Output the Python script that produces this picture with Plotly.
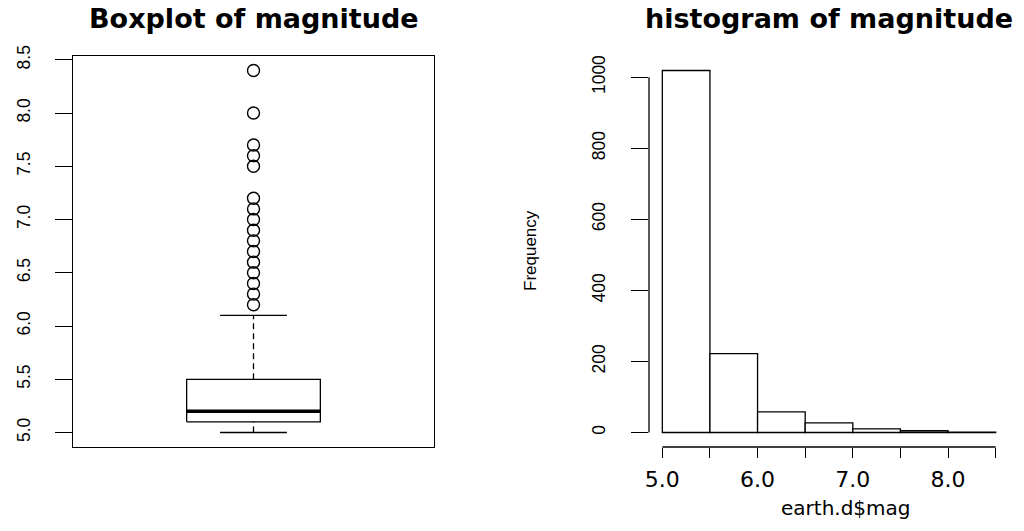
import plotly.graph_objects as go

# ---- data -------------------------------------------------------------
# boxplot summary of magnitude: lower whisker, Q1, median, Q3, upper whisker
box_stats = [5.0, 5.1, 5.2, 5.5, 6.1]
# magnitudes beyond the upper whisker
outliers = [6.2, 6.3, 6.4, 6.5, 6.6, 6.7, 6.8, 6.9, 7.0, 7.1, 7.2,
            7.5, 7.6, 7.7, 8.0, 8.4]
box_ticks = [5.0, 5.5, 6.0, 6.5, 7.0, 7.5, 8.0, 8.5]

# histogram of earth.d$mag, bins of width 0.5
bin_edges = [5.0, 5.5, 6.0, 6.5, 7.0, 7.5, 8.0, 8.5]
counts = [1019, 222, 58, 27, 10, 5, 1]
freq_ticks = [0, 200, 400, 600, 800, 1000]
mag_ticks = [5.0, 5.5, 6.0, 6.5, 7.0, 7.5, 8.0, 8.5]
mag_labels = ["5.0", "", "6.0", "", "7.0", "", "8.0", ""]

# ---- styling ----------------------------------------------------------
W, H = 1024, 531
SANS = "Liberation Sans, Arial, sans-serif"
WIDE = "DejaVu Sans, Verdana, sans-serif"
LW = 1.3


def ext(lo, hi, f=0.04):
    d = (hi - lo) * f
    return [lo - d, hi + d]


fig = go.Figure()

# ---- left panel: boxplot ---------------------------------------------
lo, q1, med, q3, hi = box_stats
cx, half, cap = 1.0, 0.2, 0.1
line = dict(color="black", width=LW)

fig.add_trace(go.Scatter(x=[cx - half, cx + half, cx + half, cx - half, cx - half],
                         y=[q1, q1, q3, q3, q1], mode="lines", line=line,
                         xaxis="x", yaxis="y", hoverinfo="skip"))
fig.add_trace(go.Scatter(x=[cx - half, cx + half], y=[med, med], mode="lines",
                         line=dict(color="black", width=3.5), xaxis="x", yaxis="y"))
for a, b in [(lo, q1), (q3, hi)]:
    fig.add_trace(go.Scatter(x=[cx, cx], y=[a, b], mode="lines",
                             line=dict(color="black", width=LW, dash="6px,4px"),
                             xaxis="x", yaxis="y"))
for v in [lo, hi]:
    fig.add_trace(go.Scatter(x=[cx - cap, cx + cap], y=[v, v], mode="lines",
                             line=line, xaxis="x", yaxis="y"))
fig.add_trace(go.Scatter(x=[cx] * len(outliers), y=outliers, mode="markers",
                         marker=dict(symbol="circle-open", size=12,
                                     color="black", line=dict(width=1.4)),
                         xaxis="x", yaxis="y"))

# ---- right panel: histogram ------------------------------------------
mids = [(a + b) / 2 for a, b in zip(bin_edges[:-1], bin_edges[1:])]
widths = [b - a for a, b in zip(bin_edges[:-1], bin_edges[1:])]
fig.add_trace(go.Bar(x=mids, y=counts, width=widths,
                     marker=dict(color="white", line=dict(color="black", width=LW)),
                     xaxis="x2", yaxis="y2"))

# ---- axes -------------------------------------------------------------
ydom = [1 - 447 / H, 1 - 56 / H]
box_y = ext(min([lo] + outliers), max([hi] + outliers))
tickfont_rot = dict(family=SANS, size=17.5, color="black")

fig.update_layout(
    template="none",
    width=W, height=H, margin=dict(l=0, r=0, t=0, b=0, autoexpand=False),
    paper_bgcolor="white", plot_bgcolor="white", showlegend=False,
    xaxis=dict(domain=[73 / W, 434 / W], range=[0.46, 1.54], anchor="y",
               automargin=False,
               showgrid=False, zeroline=False, showticklabels=False, ticks="",
               showline=True, mirror=True, linecolor="black", linewidth=LW),
    yaxis=dict(domain=ydom, range=box_y, anchor="x", tickvals=box_ticks,
               ticktext=[f"{v:.1f}" for v in box_ticks], automargin=False,
               showgrid=False, zeroline=False, ticks="outside", ticklen=17,
               tickwidth=LW, tickcolor="black", tickangle=-90,
               ticklabelstandoff=18, tickfont=tickfont_rot,
               showline=True, mirror=True, linecolor="black", linewidth=LW),
    xaxis2=dict(domain=[649 / W, 1009 / W], range=ext(bin_edges[0], bin_edges[-1]),
                anchor="y2", tickvals=mag_ticks, ticktext=mag_labels,
                automargin=False,
                showgrid=False, zeroline=False, showline=False,
                ticks="outside", ticklen=10, tickwidth=LW, tickcolor="black",
                ticklabelstandoff=3,
                tickfont=dict(family=WIDE, size=22, color="black")),
    yaxis2=dict(domain=ydom, range=ext(0, max(counts)), anchor="x2",
                tickvals=freq_ticks, automargin=False,
                showgrid=False, zeroline=False, showline=False,
                ticks="outside", ticklen=17, tickwidth=LW, tickcolor="black",
                tickangle=-90, ticklabelstandoff=19, tickfont=tickfont_rot),
)

# axis lines spanning only the tick range, as in base R
fig.add_shape(type="line", xref="x2", yref="y2 domain",
              x0=mag_ticks[0], x1=mag_ticks[-1], y0=0, y1=0,
              line=dict(color="black", width=LW))
fig.add_shape(type="line", xref="x2 domain", yref="y2",
              x0=0, x1=0, y0=freq_ticks[0], y1=freq_ticks[-1],
              line=dict(color="black", width=LW))

# ---- titles -----------------------------------------------------------
title_font = dict(family=WIDE, size=27, color="black", weight="bold")
fig.add_annotation(text="Boxplot of magnitude", xref="paper", yref="paper",
                   x=253.5 / W, y=1 - 1 / H, showarrow=False,
                   xanchor="center", yanchor="top", font=title_font)
fig.add_annotation(text="histogram of magnitude", xref="paper", yref="paper",
                   x=829 / W, y=1 - 1 / H, showarrow=False,
                   xanchor="center", yanchor="top", font=title_font)
fig.add_annotation(text="earth.d$mag", xref="paper", yref="paper",
                   x=846 / W, y=1 - 508 / H, showarrow=False,
                   xanchor="center", yanchor="middle",
                   font=dict(family=WIDE, size=20, color="black"))
fig.add_annotation(text="Frequency", xref="paper", yref="paper",
                   x=530 / W, y=1 - 251 / H, showarrow=False, textangle=-90,
                   xanchor="center", yanchor="middle",
                   font=dict(family=SANS, size=17, color="black"))

fig.write_html("out.html")
